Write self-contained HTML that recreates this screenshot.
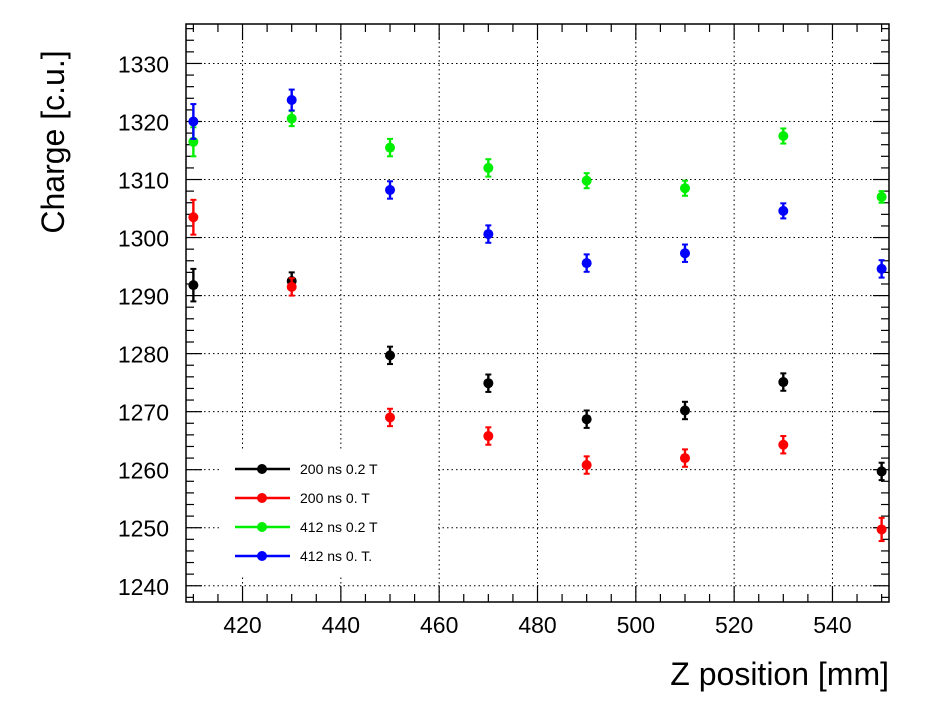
<!DOCTYPE html>
<html><head><meta charset="utf-8"><style>
body{margin:0;background:#fff}
svg text{font-family:"Liberation Sans",Arial,sans-serif}
</style></head><body>
<svg id="chart" width="926" height="723" xmlns="http://www.w3.org/2000/svg">
<rect width="926" height="723" fill="#fff"/>
<g id="grid"></g>
<g id="ticks"></g>
<rect x="186" y="24" width="703" height="578" fill="none" stroke="#000" stroke-width="1.5"/>
<g id="series"></g>
<g id="legend"></g>
<text x="64" y="142" font-size="32" text-anchor="middle" transform="rotate(-90 64 142)">Charge [c.u.]</text>
<text x="889" y="685" font-size="32" text-anchor="end">Z position [mm]</text>
</svg>
<script>
const xCats = [410, 430, 450, 470, 490, 510, 530, 550];
const black = [1291.8, 1292.5, 1279.7, 1274.9, 1268.7, 1270.2, 1275.1, 1259.7];
const blackErr = [2.8, 1.5, 1.5, 1.5, 1.5, 1.5, 1.5, 1.5];
const red = [1303.5, 1291.5, 1269.0, 1265.8, 1260.8, 1262.0, 1264.3, 1249.7];
const redErr = [3.0, 1.5, 1.5, 1.5, 1.5, 1.5, 1.5, 2.0];
const green = [1316.5, 1320.5, 1315.5, 1312.0, 1309.8, 1308.5, 1317.5, 1307.0];
const greenErr = [2.5, 1.3, 1.5, 1.5, 1.3, 1.3, 1.3, 1.0];
const blue = [1320.0, 1323.7, 1308.2, 1300.6, 1295.6, 1297.3, 1304.6, 1294.6];
const blueErr = [3.0, 1.8, 1.5, 1.5, 1.5, 1.5, 1.3, 1.5];
const xTicks = [420, 440, 460, 480, 500, 520, 540];
const yTicks = [1240, 1250, 1260, 1270, 1280, 1290, 1300, 1310, 1320, 1330];
const legendLabels = ["200 ns 0.2 T", "200 ns 0. T", "412 ns 0.2 T", "412 ns 0. T."];
const colors = ["#000000", "#ff0000", "#00ee00", "#0000ff"];

const L=186,R=889,T=24,B=602;
const X0=408.5,X1=551.5,Y0=1237.2,Y1=1336.8;
const sx=v=>L+(v-X0)/(X1-X0)*(R-L);
const sy=v=>B-(v-Y0)/(Y1-Y0)*(B-T);
const NS="http://www.w3.org/2000/svg";
function mk(tag,attrs,parent){const e=document.createElementNS(NS,tag);for(const k in attrs)e.setAttribute(k,attrs[k]);parent.appendChild(e);return e;}
const grid=document.getElementById('grid'),ticks=document.getElementById('ticks');
xTicks.forEach(v=>{
  const l=mk('line',{x1:sx(v),x2:sx(v),y1:T,y2:B,stroke:'#000','stroke-dasharray':'1.5,3','stroke-width':1},grid);
  
  
  const t=mk('text',{x:sx(v),y:633,'font-size':23,'text-anchor':'middle'},ticks);
  t.textContent=v;
  
  
});
yTicks.forEach(v=>{
  const l=mk('line',{x1:L,x2:R,y1:sy(v),y2:sy(v),stroke:'#000','stroke-dasharray':'1.5,3','stroke-width':1},grid);
  
  
  const t=mk('text',{x:169,y:sy(v)+9,'font-size':23,'text-anchor':'end'},ticks);
  t.textContent=v;
  
  
});
for(let v=410;v<=550;v+=5){
  const len=(v%20===0)?16:8;
  mk('line',{x1:sx(v),x2:sx(v),y1:B,y2:B-len,stroke:'#000','stroke-width':1.2},ticks);
  mk('line',{x1:sx(v),x2:sx(v),y1:T,y2:T+len,stroke:'#000','stroke-width':1.2},ticks);
}
for(let v=1238;v<=1336;v+=2){
  const len=(v%10===0)?16:8;
  mk('line',{x1:L,x2:L+len,y1:sy(v),y2:sy(v),stroke:'#000','stroke-width':1.2},ticks);
  mk('line',{x1:R,x2:R-len,y1:sy(v),y2:sy(v),stroke:'#000','stroke-width':1.2},ticks);
}
const series=document.getElementById('series');
const all=[[black,blackErr],[red,redErr],[green,greenErr],[blue,blueErr]];
const names=['black-series','red-series','green-series','blue-series'];
all.forEach(([vals,errs],si)=>{
  const g=mk('g',{fill:colors[si],stroke:colors[si]},series);
  
  
  vals.forEach((v,i)=>{
    const x=sx(xCats[i]),y=sy(v),y1=sy(v+errs[i]),y2=sy(v-errs[i]);
    mk('line',{x1:x,x2:x,y1:y1,y2:y2,'stroke-width':2.4},g);
    mk('line',{x1:x-3,x2:x+3,y1:y1,y2:y1,'stroke-width':2},g);
    mk('line',{x1:x-3,x2:x+3,y1:y2,y2:y2,'stroke-width':2},g);
    const c=mk('circle',{cx:x,cy:y,r:5,stroke:'none'},g);
    
    
  });
});
const legend=document.getElementById('legend');
mk('rect',{x:220,y:450,width:218,height:125,fill:'#fff'},legend);
legendLabels.forEach((lab,i)=>{
  const y=469+i*29;
  const g=mk('g',{},legend);
  
  
  mk('line',{x1:235,x2:290,y1:y,y2:y,stroke:colors[i],'stroke-width':2.4},g);
  mk('circle',{cx:262,cy:y,r:5,fill:colors[i]},g);
  const t=mk('text',{x:300,y:y+5,'font-size':14},g);
  t.textContent=lab;
});
</script>
</body></html>
